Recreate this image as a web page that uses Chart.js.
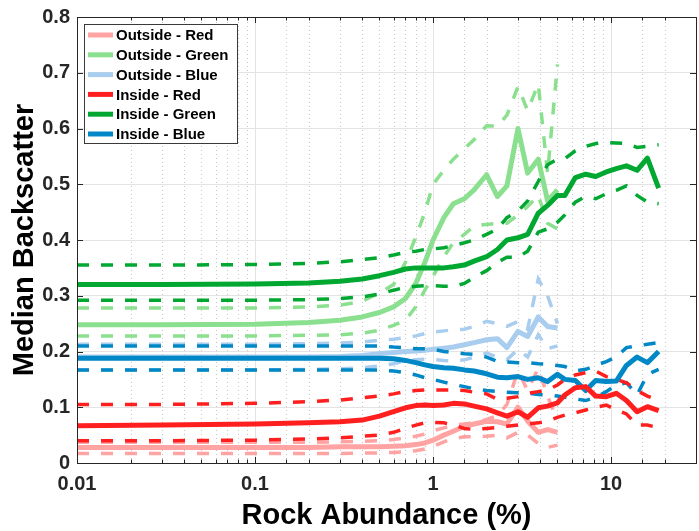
<!DOCTYPE html>
<html>
<head>
<meta charset="utf-8">
<script src="https://cdn.jsdelivr.net/npm/chart.js@4.4.1/dist/chart.umd.min.js"></script>
<style>
  html, body { margin:0; padding:0; background:#fff; }
  #wrap { width:699px; height:531px; }
</style>
</head>
<body>
<div id="wrap"><canvas id="c" width="699" height="531"></canvas></div>
<script>
// rock abundance bins (%), shared by every series
const rockX = [0.01,0.03,0.1,0.2,0.3,0.4,0.5,0.6,0.7,0.8,0.9,1.0,1.15,1.3,1.5,1.7,2.0,2.3,2.6,3.0,3.4,3.9,4.4,5.0,5.5,6.3,7.2,8.2,9.4,10.7,12.2,14,16,18.5];
const yTicks = [0,0.1,0.2,0.3,0.4,0.5,0.6,0.7,0.8];

// outside: median + lower/upper bounds (stop at ~5%)
const outRedMed = [0.028,0.028,0.028,0.028,0.029,0.029,0.029,0.030,0.031,0.033,0.036,0.041,0.050,0.057,0.066,0.070,0.075,0.074,0.070,0.100,0.075,0.055,0.060,0.055];
const outRedLo  = [0.017,0.017,0.017,0.017,0.017,0.018,0.018,0.019,0.020,0.022,0.025,0.030,0.038,0.044,0.047,0.047,0.048,0.050,0.045,0.055,0.050,0.035,0.028,0.032];
const outRedHi  = [0.037,0.037,0.037,0.037,0.038,0.039,0.040,0.042,0.045,0.048,0.052,0.058,0.063,0.068,0.070,0.072,0.078,0.085,0.105,0.165,0.130,0.170,0.120,0.075];

const outGreenMed = [0.248,0.248,0.249,0.252,0.256,0.262,0.270,0.280,0.295,0.322,0.360,0.400,0.440,0.465,0.474,0.490,0.517,0.478,0.497,0.600,0.520,0.545,0.470,0.490];
const outGreenLo  = [0.228,0.228,0.228,0.229,0.230,0.233,0.238,0.247,0.256,0.280,0.310,0.335,0.370,0.395,0.410,0.425,0.428,0.430,0.430,0.445,0.460,0.480,0.430,0.420];
const outGreenHi  = [0.278,0.278,0.278,0.280,0.283,0.290,0.305,0.320,0.360,0.405,0.450,0.500,0.525,0.545,0.564,0.580,0.605,0.604,0.624,0.675,0.632,0.680,0.520,0.715];

const outBlueMed = [0.190,0.190,0.190,0.190,0.191,0.193,0.196,0.198,0.200,0.201,0.202,0.204,0.206,0.208,0.212,0.216,0.221,0.223,0.207,0.236,0.227,0.262,0.245,0.242];
const outBlueLo  = [0.167,0.167,0.167,0.168,0.169,0.171,0.174,0.178,0.183,0.185,0.186,0.186,0.184,0.183,0.185,0.190,0.197,0.190,0.185,0.204,0.190,0.230,0.205,0.210];
const outBlueHi  = [0.213,0.213,0.213,0.214,0.215,0.217,0.220,0.222,0.225,0.228,0.232,0.235,0.237,0.239,0.240,0.245,0.254,0.250,0.245,0.254,0.240,0.330,0.300,0.250];

// inside: median + lower/upper bounds
const inRedMed = [0.067,0.068,0.070,0.072,0.074,0.077,0.084,0.092,0.099,0.103,0.104,0.103,0.104,0.107,0.106,0.102,0.097,0.090,0.084,0.092,0.082,0.099,0.102,0.108,0.122,0.135,0.137,0.120,0.119,0.125,0.112,0.092,0.101,0.094];
const inRedLo  = [0.040,0.040,0.041,0.043,0.045,0.048,0.050,0.055,0.062,0.068,0.072,0.073,0.072,0.068,0.062,0.060,0.062,0.064,0.066,0.068,0.070,0.072,0.075,0.082,0.086,0.090,0.095,0.100,0.104,0.095,0.088,0.068,0.068,0.063];
const inRedHi  = [0.105,0.105,0.107,0.110,0.113,0.117,0.120,0.124,0.128,0.130,0.131,0.131,0.131,0.131,0.130,0.127,0.124,0.114,0.116,0.119,0.125,0.128,0.131,0.140,0.150,0.158,0.162,0.165,0.155,0.150,0.144,0.130,0.120,0.112];

const inGreenMed = [0.320,0.320,0.321,0.323,0.326,0.330,0.336,0.342,0.348,0.350,0.350,0.350,0.350,0.352,0.355,0.362,0.370,0.383,0.400,0.404,0.410,0.448,0.462,0.480,0.480,0.512,0.518,0.514,0.522,0.528,0.533,0.525,0.547,0.493];
const inGreenLo  = [0.292,0.292,0.292,0.293,0.295,0.298,0.303,0.310,0.315,0.317,0.318,0.318,0.317,0.317,0.322,0.333,0.345,0.360,0.369,0.369,0.380,0.414,0.420,0.432,0.445,0.468,0.478,0.474,0.483,0.489,0.497,0.480,0.468,0.465];
const inGreenHi  = [0.355,0.355,0.356,0.358,0.361,0.365,0.368,0.373,0.378,0.380,0.383,0.384,0.386,0.390,0.395,0.400,0.410,0.420,0.440,0.452,0.470,0.505,0.535,0.545,0.546,0.560,0.568,0.573,0.575,0.574,0.573,0.566,0.568,0.571];

const inBlueMed = [0.188,0.188,0.188,0.188,0.188,0.188,0.188,0.187,0.184,0.180,0.176,0.173,0.171,0.170,0.167,0.165,0.160,0.154,0.153,0.155,0.150,0.153,0.146,0.159,0.150,0.148,0.130,0.148,0.146,0.147,0.175,0.190,0.180,0.200];
const inBlueLo  = [0.167,0.167,0.167,0.167,0.167,0.167,0.167,0.165,0.162,0.158,0.153,0.150,0.145,0.141,0.137,0.133,0.130,0.128,0.127,0.126,0.125,0.123,0.122,0.120,0.118,0.115,0.112,0.118,0.128,0.140,0.144,0.122,0.159,0.168];
const inBlueHi  = [0.210,0.210,0.210,0.210,0.210,0.210,0.210,0.208,0.207,0.205,0.205,0.204,0.200,0.198,0.196,0.195,0.190,0.182,0.181,0.180,0.180,0.178,0.177,0.175,0.173,0.165,0.168,0.175,0.182,0.190,0.207,0.210,0.213,0.216];

const groups = [
  { label:'Outside - Red',   color:'#FFA3A3', med:outRedMed,   lo:outRedLo,   hi:outRedHi,   order:20 },
  { label:'Outside - Green', color:'#8BE08F', med:outGreenMed, lo:outGreenLo, hi:outGreenHi, order:20 },
  { label:'Outside - Blue',  color:'#A9CDEE', med:outBlueMed,  lo:outBlueLo,  hi:outBlueHi,  order:20 },
  { label:'Inside - Red',    color:'#FF1F1F', med:inRedMed,    lo:inRedLo,    hi:inRedHi,    order:10 },
  { label:'Inside - Green',  color:'#00A832', med:inGreenMed,  lo:inGreenLo,  hi:inGreenHi,  order:10 },
  { label:'Inside - Blue',   color:'#0088C6', med:inBlueMed,   lo:inBlueLo,   hi:inBlueHi,   order:10 }
];

const FONT = "'Liberation Sans', Arial, Helvetica, sans-serif";
const AX = '#262626';

function toPts(arr){
  return arr.map((y,i)=>({ x: rockX[i], y })).filter(p=>p.y!=null);
}
function isDecade(v){
  const l = Math.log10(v);
  return Math.abs(l - Math.round(l)) < 1e-6;
}

const datasets = [];
groups.forEach(g=>{
  for (const key of ['lo','hi']){
    datasets.push({ label:g.label+' '+key, data:toPts(g[key]), borderColor:g.color, borderWidth:3.5,
      borderDash:[12,12], borderCapStyle:'butt', pointRadius:0, fill:false, tension:0, order:g.order+1 });
  }
  datasets.push({ label:g.label, data:toPts(g.med), borderColor:g.color, borderWidth:5,
    borderJoinStyle:'round', borderCapStyle:'butt', pointRadius:0, fill:false, tension:0, order:g.order });
});

// minor dotted grid, inward ticks, axes box and the matlab-style legend
const decor = {
  id:'decor',
  beforeDatasetsDraw(chart){
    const {ctx, chartArea:a, scales:{x}} = chart;
    ctx.save();
    ctx.strokeStyle = '#c4c4c4'; ctx.lineWidth = 1; ctx.setLineDash([1,3]);
    x.ticks.forEach(t=>{
      if (isDecade(t.value)) return;
      const px = Math.round(x.getPixelForValue(t.value)) + 0.5;
      ctx.beginPath(); ctx.moveTo(px, a.bottom); ctx.lineTo(px, a.top); ctx.stroke();
    });
    ctx.restore();
  },
  afterDatasetsDraw(chart){
    const {ctx, chartArea:a, scales:{x, y}} = chart;
    ctx.save();
    ctx.strokeStyle = AX; ctx.lineWidth = 1;
    ctx.beginPath();
    x.ticks.forEach(t=>{
      const px = Math.round(x.getPixelForValue(t.value)) + 0.5;
      const len = isDecade(t.value) ? 6 : 3.5;
      ctx.moveTo(px, a.bottom); ctx.lineTo(px, a.bottom - len);
      ctx.moveTo(px, a.top); ctx.lineTo(px, a.top + len);
    });
    yTicks.forEach(v=>{
      const py = Math.round(y.getPixelForValue(v)) + 0.5;
      ctx.moveTo(a.left, py); ctx.lineTo(a.left + 6, py);
      ctx.moveTo(a.right, py); ctx.lineTo(a.right - 6, py);
    });
    ctx.stroke();
    ctx.strokeRect(Math.round(a.left)+0.5, Math.round(a.top)+0.5, Math.round(a.right-a.left), Math.round(a.bottom-a.top));

    // legend
    const bx = a.left + 7, by = a.top + 7, bw = 153, bh = 119;
    ctx.fillStyle = '#fff';
    ctx.fillRect(bx, by, bw, bh);
    ctx.strokeStyle = '#3a3a3a';
    ctx.strokeRect(bx + 0.5, by + 0.5, bw, bh);
    ctx.font = `bold 15px ${FONT}`;
    ctx.textBaseline = 'middle';
    ctx.fillStyle = '#000';
    groups.forEach((g,i)=>{
      const cy = by + 11 + i*19.8;
      ctx.strokeStyle = g.color; ctx.lineWidth = 5;
      ctx.beginPath(); ctx.moveTo(bx + 4, cy); ctx.lineTo(bx + 29, cy); ctx.stroke();
      ctx.fillText(g.label, bx + 32, cy + 1);
    });
    ctx.restore();
  }
};

new Chart(document.getElementById('c'), {
  type:'line',
  data:{ datasets },
  options:{
    responsive:false, animation:false, devicePixelRatio:1,
    layout:{ padding:{ top:17, right:3, left:0, bottom:0 } },
    plugins:{ legend:{ display:false }, tooltip:{ enabled:false } },
    scales:{
      x:{
        type:'logarithmic', min:0.01, max:30,
        afterFit: s => { s.height = 68; s.paddingRight = 0; s.paddingLeft = 0; },
        grid:{ drawTicks:false, lineWidth:1,
          color: c => (c.tick && isDecade(c.tick.value)) ? '#e3e3e3' : 'rgba(0,0,0,0)' },
        border:{ display:false },
        ticks:{ autoSkip:false, maxRotation:0, padding:9, color:AX,
          font:{ family:FONT, size:20, weight:'bold' },
          callback: v => isDecade(v) ? String(+v.toPrecision(1)) : '' },
        title:{ display:true, text:'Rock Abundance (%)', color:'#000',
          font:{ family:FONT, size:29, weight:'bold', lineHeight:1 }, padding:{ top:0, bottom:1 } }
      },
      y:{
        min:0, max:0.8,
        afterFit: s => { s.width = 77; s.paddingTop = 0; s.paddingBottom = 0; },
        afterBuildTicks: s => { s.ticks = yTicks.map(v=>({ value:v })); },
        grid:{ drawTicks:false, color:'#e3e3e3', lineWidth:1 },
        border:{ display:false },
        ticks:{ padding:7, color:AX, font:{ family:FONT, size:20, weight:'bold' },
          callback: v => v === 0 ? '0' : v.toFixed(1) },
        title:{ display:true, text:'Median Backscatter', color:'#000',
          font:{ family:FONT, size:29, weight:'bold', lineHeight:1 }, padding:{ top:10, bottom:0 } }
      }
    }
  },
  plugins:[decor]
});
</script>
</body>
</html>
